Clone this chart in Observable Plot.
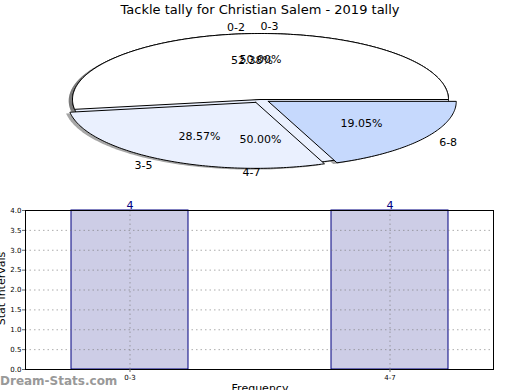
<!DOCTYPE html>
<html><head><meta charset="utf-8">
<script src="https://cdn.jsdelivr.net/npm/d3@7"></script>
<script src="https://cdn.jsdelivr.net/npm/@observablehq/plot@0.6"></script>
<style>
body{margin:0;background:#fff;font-family:"DejaVu Sans",sans-serif;}
#wrap{position:relative;width:520px;height:390px;overflow:hidden;background:#fff;}
.abs{position:absolute;white-space:nowrap;}
#title{left:0;width:520px;top:2px;text-align:center;font-size:13px;color:#000;}
#pie{left:0;top:0;}
#bars{left:0;top:190px;}
#ylab{left:-35px;top:282px;font-size:11px;transform:rotate(-90deg);color:#000;}
#xlab{left:0;width:520px;text-align:center;top:382px;font-size:11px;color:#000;}
#wm{left:0;top:374px;font-size:12px;color:#999;font-weight:bold;}
</style></head><body>
<div id="wrap">
  <div id="pie" class="abs"></div>
  <div id="bars" class="abs"></div>
  <div id="title" class="abs">Tackle tally for Christian Salem - 2019 tally</div>
  <div id="ylab" class="abs">Stat intervals</div>
  <div id="xlab" class="abs">Frequency</div>
  <div id="wm" class="abs">Dream-Stats.com</div>
</div>
<script>
// ---- data ----
const pieLabels = ["0-2", "3-5", "6-8"];
const pieValues = [11, 6, 4];
const pieExplode = [0, 0.05, 0.05];
const pieColors = ["#ffffff", "#eaf0fe", "#c6d9fd"];

const pie2Labels = ["0-3", "4-7"];
const pie2Values = [4, 4];
const pie2Explode = [0, 0];
const pie2Colors = ["#ffffff", "#eaf0fe"];

const barCategories = ["0-3", "4-7"];
const barValues = [4, 4];
const yTicks = [0, 0.5, 1, 1.5, 2, 2.5, 3, 3.5, 4];

// ---- pie geometry (unit circle, squashed by scales) ----
function buildPie(labels, values, explode, colors, key) {
  const total = d3.sum(values);
  let t = 0;
  const wedges = [];
  labels.forEach((lab, i) => {
    const t1 = t, t2 = t + values[i] / total * 360;
    t = t2;
    const mid = Math.PI / 180 * (t1 + t2) / 2;
    const cx = explode[i] * Math.cos(mid), cy = explode[i] * Math.sin(mid);
    const pts = [{x: cx, y: cy}];
    const n = Math.max(8, Math.ceil(t2 - t1));
    for (let k = 0; k <= n; k++) {
      const a = Math.PI / 180 * (t1 + (t2 - t1) * k / n);
      pts.push({x: cx + Math.cos(a), y: cy + Math.sin(a)});
    }
    pts.push({x: cx, y: cy});
    wedges.push({
      key: key + i, label: lab, color: colors[i], pts,
      lx: cx + 1.1 * Math.cos(mid), ly: cy + 1.1 * Math.sin(mid),
      anchor: (1.1 * Math.cos(mid)) > 0 ? "start" : "end",
      px: cx + 0.6 * Math.cos(mid), py: cy + 0.6 * Math.sin(mid),
      pct: (values[i] / total * 100).toFixed(2) + "%"
    });
  });
  return wedges;
}
const pie2 = buildPie(pie2Labels, pie2Values, pie2Explode, pie2Colors, "b");
const pie1 = buildPie(pieLabels, pieValues, pieExplode, pieColors, "a");
const allW = [...pie2, ...pie1];

const PH = 190, CX = 260, CY = 99, RX = 188, RY = 66;
const font = {fontFamily: "DejaVu Sans, sans-serif"};
const marks = [];
// shadows (below all wedges)
allW.forEach(w => marks.push(Plot.line(w.pts, {
  x: d => d.x - 0.02, y: d => d.y - 0.02, fill: "#4d4d4d", fillOpacity: 0.5, stroke: "none"
})));
allW.forEach(w => marks.push(Plot.line(w.pts, {
  x: "x", y: "y", fill: w.color, stroke: "black", strokeWidth: 1, strokeLinejoin: "miter"
})));
marks.push(Plot.text(allW.filter(w => w.anchor === "start"), {x: "lx", y: "ly", text: "label", textAnchor: "start", fontSize: 11, fill: "black"}));
marks.push(Plot.text(allW.filter(w => w.anchor === "end"), {x: "lx", y: "ly", text: "label", textAnchor: "end", fontSize: 11, fill: "black"}));
marks.push(Plot.text(allW, {x: "px", y: "py", text: "pct", textAnchor: "middle", fontSize: 11, fill: "black"}));

const piePlot = Plot.plot({
  width: 520, height: PH, margin: 0,
  style: {...font, background: "transparent", overflow: "visible"},
  x: {domain: [-CX / RX, (520 - CX) / RX], range: [0, 520], axis: null},
  y: {domain: [-(PH - CY) / RY, CY / RY], range: [PH, 0], axis: null},
  marks
});
document.getElementById("pie").appendChild(piePlot);

// ---- bar chart ----
const barData = barCategories.map((c, i) => ({cat: c, val: barValues[i]}));
const barPlot = Plot.plot({
  width: 520, height: 200,
  marginTop: 20, marginBottom: 21, marginLeft: 25, marginRight: 27,
  style: {...font, background: "transparent", overflow: "visible"},
  x: {type: "band", domain: barCategories, paddingInner: 0.55, paddingOuter: 0.175, align: 0.5},
  y: {domain: [0, 4]},
  marks: [
    Plot.barY(barData, {x: "cat", y: "val", fill: "#cdcde6", stroke: "#000080", strokeWidth: 1, inset: 0}),
    Plot.gridY(yTicks, {stroke: "#777", strokeOpacity: 0.6, strokeDasharray: "1.5,3", strokeWidth: 1}),
    Plot.gridX(barCategories, {stroke: "#777", strokeOpacity: 0.6, strokeDasharray: "1.5,3", strokeWidth: 1}),
    Plot.frame({stroke: "black", strokeWidth: 1}),
    Plot.axisY(yTicks, {tickSize: 3, tickPadding: 1, fontSize: 7, tickFormat: d => d.toFixed(1), label: null, stroke: "#666"}),
    Plot.axisX(barCategories, {tickSize: 3, tickPadding: 3, fontSize: 7, label: null, stroke: "#666"}),
    Plot.text(barData, {x: "cat", y: "val", text: d => String(d.val), dy: -5, fill: "#000080", fontSize: 11})
  ]
});
document.getElementById("bars").appendChild(barPlot);
</script>
</body></html>
